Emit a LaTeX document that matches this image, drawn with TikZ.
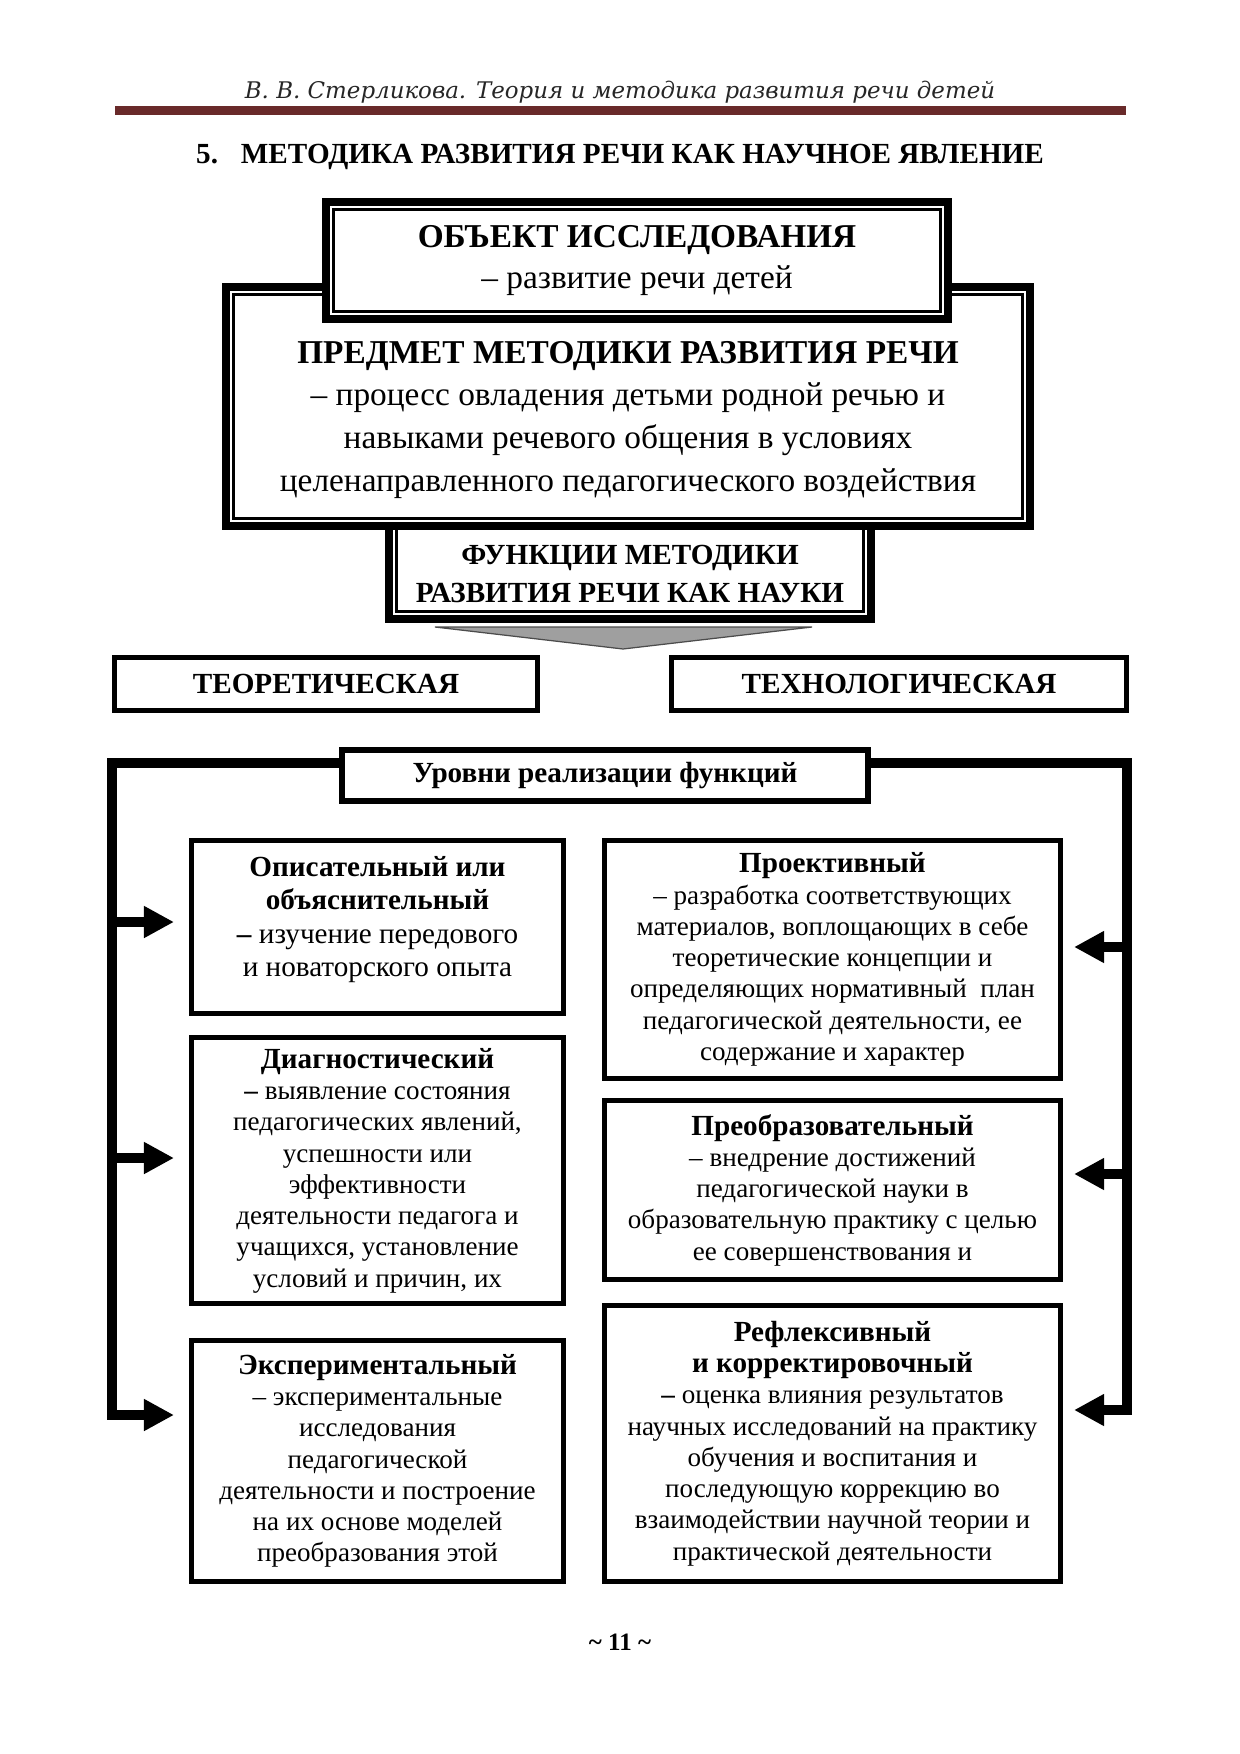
\documentclass[tikz,border=0pt]{standalone}
\usepackage{fontspec}
\setmainfont{Liberation Serif}
\newfontfamily\headfont{DejaVu Serif}
\usetikzlibrary{arrows.meta,positioning}
\definecolor{rulebrown}{RGB}{105,42,42}

\tikzset{
  frame/.style={draw, line width=3.84pt, fill=white, inner sep=0pt, align=center},
  fnbox/.style={draw, line width=2.6pt, inner sep=0pt, align=center,
    font=\bfseries\fontsize{14}{17}\selectfont},
  lvlbox/.style={draw, line width=2.6pt, inner sep=0pt, align=center,
    font=\fontsize{13}{15}\selectfont},
  barrow/.style={line width=4.5pt, -{Triangle[length=14.4pt,width=14.4pt]}},
}
\newcommand{\innerframe}[1]{%
  \draw[line width=1.4pt] ([shift={(5.5pt,-5.5pt)}]#1.north west)
    rectangle ([shift={(-5.5pt,5.5pt)}]#1.south east);}
\newcommand{\lvlhead}[1]{{\bfseries\fontsize{14}{15}\selectfont #1}}

\begin{document}
\begin{tikzpicture}[x=0.48pt, y=-0.48pt]
\useasboundingbox (0,0) rectangle (1240,1754);

% Running head
\node[font=\headfont\itshape\fontsize{11}{13}\selectfont, text=black!85, anchor=base] (head) at (620,98) {В. В. Стерликова. Теория и методика развития речи детей};
\fill[rulebrown] (115,106) rectangle (1126,115);

% Title
\node[font=\bfseries\fontsize{14}{17}\selectfont, anchor=base] (title) at (620,163) {5.\hspace{11pt}МЕТОДИКА РАЗВИТИЯ РЕЧИ КАК НАУЧНОЕ ЯВЛЕНИЕ};

% Framed boxes (lower ones first, upper ones cover them)
\node[frame, minimum width=231.4pt, minimum height=48pt, font=\bfseries\fontsize{14}{18.2}\selectfont] (func) at (630,569) {\rule{0pt}{14pt}ФУНКЦИИ МЕТОДИКИ\\РАЗВИТИЯ РЕЧИ КАК НАУКИ};
\innerframe{func}
\node[frame, minimum width=385.9pt, minimum height=114.7pt, font=\fontsize{16}{20.6}\selectfont] (pred) at (628,406.5) {\rule{0pt}{23.5pt}\textbf{ПРЕДМЕТ МЕТОДИКИ РАЗВИТИЯ РЕЧИ}\\– процесс овладения детьми родной речью и\\навыками речевого общения в условиях\\целенаправленного педагогического воздействия};
\innerframe{pred}
\node[frame, minimum width=298.6pt, minimum height=56.2pt, font=\fontsize{16}{19.4}\selectfont] (obj) at (637,260.5) {\textbf{ОБЪЕКТ ИССЛЕДОВАНИЯ}\\– развитие речи детей};
\innerframe{obj}

% Arrow under the functions box
\shadedraw[left color=gray!75, middle color=gray!10, right color=gray!75, draw=black!70, line width=0.6pt] (435,627) -- (812,627) -- (623,649) -- cycle;

% Two functions
\node[fnbox, minimum width=202.8pt, minimum height=25.2pt] (theor) at (326,684) {ТЕОРЕТИЧЕСКАЯ};
\node[fnbox, minimum width=218.2pt, minimum height=25.2pt] (techn) at (899,684) {ТЕХНОЛОГИЧЕСКАЯ};

% Levels
\node[fnbox, minimum width=252.6pt, minimum height=24.6pt] (lvl) at (605,775.5) {Уровни реализации функций};

\node[lvlbox, minimum width=178.4pt, minimum height=82.8pt, font=\fontsize{14}{16}\selectfont] (opis) at (377.5,927) {\lvlhead{Описательный или}\\\lvlhead{объяснительный}\\\textbf{–} изучение передового\\и новаторского опыта\rule[-10pt]{0pt}{10pt}};
\node[lvlbox, minimum width=178.4pt, minimum height=127.5pt] (diag) at (377.5,1170.5) {\lvlhead{Диагностический}\\\textbf{–} выявление состояния\\педагогических явлений,\\успешности или\\эффективности\\деятельности педагога и\\учащихся, установление\\условий и причин, их};
\node[lvlbox, minimum width=178.4pt, minimum height=115.5pt] (eksp) at (377.5,1461) {\lvlhead{Экспериментальный}\\– экспериментальные\\исследования\\педагогической\\деятельности и построение\\на их основе моделей\\преобразования этой};

\node[lvlbox, minimum width=218.7pt, minimum height=114pt] (proek) at (832.5,959.5) {\lvlhead{Проективный}\\– разработка соответствующих\\материалов, воплощающих в себе\\теоретические концепции и\\определяющих нормативный\ \ план\\педагогической деятельности, ее\\содержание и характер};
\node[lvlbox, minimum width=218.7pt, minimum height=85.7pt] (preob) at (832.5,1190) {\lvlhead{Преобразовательный}\\– внедрение достижений\\педагогической науки в\\образовательную практику с целью\\ее совершенствования и};
\node[lvlbox, minimum width=218.7pt, minimum height=132.3pt] (refl) at (832.5,1443.5) {\lvlhead{Рефлексивный}\\\lvlhead{и корректировочный}\\\textbf{–} оценка влияния результатов\\научных исследований на практику\\обучения и воспитания и\\последующую коррекцию во\\взаимодействии научной теории и\\практической деятельности};

% Bracket arrows
\coordinate (lt) at (112,763);
\coordinate (rt) at (1127,763);
\foreach \i/\yl/\yr in {1/922/947, 2/1158/1174, 3/1415/1410} {
  \coordinate (la\i) at (112,\yl);
  \coordinate (ra\i) at (1127,\yr);
}
\draw[barrow, shorten >=7.2pt] (lvl.west |- lt) -- (lt) -- (la3) -- (eksp.west |- la3);
\draw[barrow, shorten >=5.3pt] (lvl.east |- rt) -- (rt) -- (ra3) -- (refl.east |- ra3);
\draw[barrow, shorten >=7.2pt] (la1) -- (opis.west |- la1);
\draw[barrow, shorten >=7.2pt] (la2) -- (diag.west |- la2);
\draw[barrow, shorten >=5.3pt] (ra1) -- (proek.east |- ra1);
\draw[barrow, shorten >=5.3pt] (ra2) -- (preob.east |- ra2);

% Page number
\node[font=\bfseries\fontsize{12}{14}\selectfont] (pnum) at (620,1642) {\textasciitilde{} 11 \textasciitilde};

\end{tikzpicture}
\end{document}
